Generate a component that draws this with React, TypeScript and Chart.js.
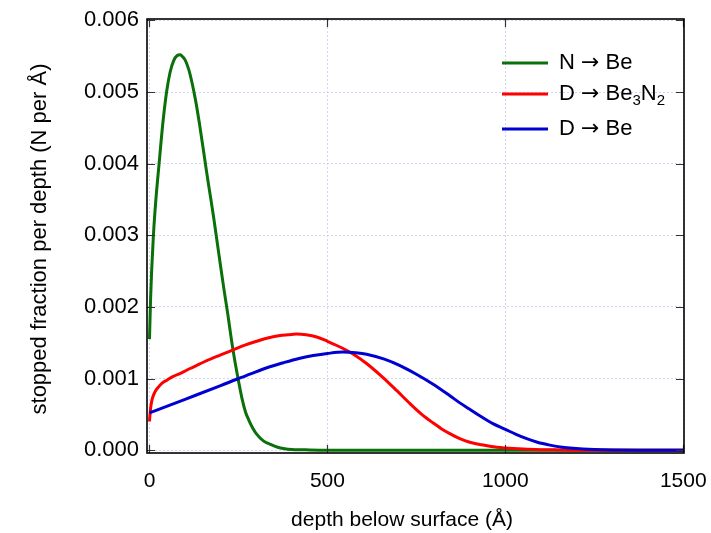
import React, { useEffect, useRef } from "react";
import { Chart, registerables } from "chart.js";

Chart.register(...registerables);

const xTicks = [0, 500, 1000, 1500];
const yTicks = [0, 0.001, 0.002, 0.003, 0.004, 0.005, 0.006];

const seriesLabels = ["N → Be", "D → Be₃N₂", "D → Be"];
const seriesColors = ["#0a700a", "#ff0000", "#0000d2"];

const nBeDepth = [0, 3, 6, 11, 18, 27, 37, 48, 58, 68, 78, 86, 90, 100, 110, 120, 130, 140, 150, 160, 170, 180, 190, 200, 210, 220, 230, 240, 250, 260, 270, 280, 290, 300, 320, 340, 360, 380, 400, 450, 500, 800, 1200, 1500];
const nBeValue = [0.00155, 0.0021, 0.0025, 0.003, 0.0035, 0.004, 0.00454, 0.005, 0.00528, 0.00544, 0.00551, 0.00552, 0.00551, 0.00545, 0.00532, 0.00512, 0.00487, 0.00457, 0.00424, 0.0039, 0.00358, 0.00326, 0.00291, 0.00256, 0.00222, 0.0019, 0.00155, 0.00124, 0.00097, 0.00072, 0.00053, 0.00041, 0.00031, 0.00023, 0.00013, 0.00008, 0.00004, 0.00002, 0.00001, 0.000003, 0, 0, 0, 0];

const dBe3N2Depth = [0, 1, 4, 8, 15, 25, 34, 50, 67, 90, 114, 140, 161, 200, 235, 270, 301, 335, 367, 390, 413, 440, 470, 500, 540, 573, 610, 657, 695, 732, 765, 797, 820, 844, 872, 900, 928, 960, 1000, 1050, 1100, 1150, 1200, 1300, 1500];
const dBe3N2Value = [0.0004, 0.00047, 0.00062, 0.00072, 0.00081, 0.00088, 0.00093, 0.00098, 0.00103, 0.00108, 0.00114, 0.0012, 0.00125, 0.00133, 0.0014, 0.00147, 0.00152, 0.00157, 0.0016, 0.00161, 0.00162, 0.00161, 0.00158, 0.00152, 0.00143, 0.00134, 0.00121, 0.00101, 0.00083, 0.00065, 0.0005, 0.00038, 0.0003, 0.00023, 0.00016, 0.00011, 0.00008, 0.00005, 0.00003, 0.000015, 0.000007, 0.000003, 0, 0, 0];

const dBeDepth = [0, 100, 200, 245, 282, 330, 376, 420, 460, 500, 544, 580, 610, 660, 704, 750, 797, 844, 872, 900, 928, 965, 1000, 1030, 1060, 1090, 1125, 1160, 1190, 1250, 1300, 1400, 1500];
const dBeValue = [0.00052, 0.00071, 0.0009, 0.00099, 0.00106, 0.00115, 0.00122, 0.00128, 0.00132, 0.00135, 0.00137, 0.00136, 0.00134, 0.00127, 0.00118, 0.00106, 0.00092, 0.00076, 0.00066, 0.00057, 0.00048, 0.00037, 0.00029, 0.00022, 0.00016, 0.00011, 0.00007, 0.00004, 0.000025, 0.000008, 0.000002, 0, 0];

const xTitle = "depth below surface (Å)";
const yTitle = "stopped fraction per depth (N per Å)";

const FONT = "'Liberation Sans', Arial, Helvetica, sans-serif";
const ARROW_FONT = "'DejaVu Sans', 'Liberation Sans', sans-serif";

const toPoints = (xs: number[], ys: number[]) => xs.map((x, i) => ({ x, y: ys[i] }));

const SUBS: Record<string, string> = { "₀": "0", "₁": "1", "₂": "2", "₃": "3", "₄": "4", "₅": "5", "₆": "6", "₇": "7", "₈": "8", "₉": "9" };

function drawRich(ctx: CanvasRenderingContext2D, text: string, x: number, y: number, size: number) {
  let cx = x;
  let buf = "";
  let kind = "n";
  const flush = () => {
    if (!buf) return;
    let dy = 0;
    if (kind === "s") {
      ctx.font = `${Math.round(size * 0.68)}px ${FONT}`;
      dy = size * 0.3;
    } else if (kind === "a") {
      ctx.font = `${size}px ${ARROW_FONT}`;
      dy = 0;
    } else {
      ctx.font = `${size}px ${FONT}`;
    }
    ctx.fillText(buf, cx, y + dy);
    cx += ctx.measureText(buf).width;
    buf = "";
  };
  for (const ch of text) {
    const k = ch in SUBS ? "s" : ch === "→" ? "a" : "n";
    if (k !== kind) {
      flush();
      kind = k;
    }
    buf += k === "s" ? SUBS[ch] : ch;
  }
  flush();
}

const framePlugin = {
  id: "frameAndLegend",
  afterDraw(chart: any) {
    const { ctx, chartArea: a, scales } = chart;
    const xs = scales.x;
    const ys = scales.y;
    ctx.save();
    // inward ticks
    ctx.strokeStyle = "#333";
    ctx.lineWidth = 1.2;
    const tl = 8;
    ctx.beginPath();
    for (const v of yTicks) {
      const py = Math.round(ys.getPixelForValue(v)) + 0.5;
      ctx.moveTo(a.left, py);
      ctx.lineTo(a.left + tl, py);
      ctx.moveTo(a.right, py);
      ctx.lineTo(a.right - tl, py);
    }
    for (const v of xTicks) {
      const px = Math.round(xs.getPixelForValue(v)) + 0.5;
      ctx.moveTo(px, a.bottom);
      ctx.lineTo(px, a.bottom - tl);
      ctx.moveTo(px, a.top);
      ctx.lineTo(px, a.top + tl);
    }
    ctx.stroke();
    // frame
    ctx.strokeStyle = "#000";
    ctx.lineWidth = 1.6;
    ctx.strokeRect(a.left, a.top, a.right - a.left, a.bottom - a.top);
    // axis titles
    ctx.fillStyle = "#000";
    ctx.textAlign = "center";
    ctx.textBaseline = "middle";
    ctx.font = `21px ${FONT}`;
    ctx.fillText(xTitle, a.left + 255, 520);
    ctx.save();
    ctx.translate(40, (a.top + a.bottom) / 2 + 3);
    ctx.rotate(-Math.PI / 2);
    ctx.font = `22px ${FONT}`;
    ctx.fillText(yTitle, 0, 0);
    ctx.restore();
    // legend
    const rows = [44, 75, 110];
    chart.data.datasets.forEach((ds: any, i: number) => {
      const y = a.top + rows[i];
      ctx.strokeStyle = ds.borderColor;
      ctx.lineWidth = 3;
      ctx.beginPath();
      ctx.moveTo(a.right - 182, y);
      ctx.lineTo(a.right - 136, y);
      ctx.stroke();
      ctx.fillStyle = "#000";
      ctx.textBaseline = "middle";
      ctx.textAlign = "left";
      drawRich(ctx, ds.label, a.right - 125, y, 22);
    });
    ctx.restore();
  },
};

export default function App() {
  const ref = useRef<HTMLCanvasElement | null>(null);
  useEffect(() => {
    if (!ref.current) return;
    const datasets = [
      { label: seriesLabels[0], data: toPoints(nBeDepth, nBeValue), borderColor: seriesColors[0], order: 3 },
      { label: seriesLabels[1], data: toPoints(dBe3N2Depth, dBe3N2Value), borderColor: seriesColors[1], order: 2 },
      { label: seriesLabels[2], data: toPoints(dBeDepth, dBeValue), borderColor: seriesColors[2], order: 1 },
    ].map((d) => ({
      ...d,
      backgroundColor: d.borderColor,
      borderWidth: 3,
      pointRadius: 0,
      showLine: true,
      fill: false,
      cubicInterpolationMode: "monotone" as const,
    }));
    const gridColor = "rgba(190,190,238,0.65)";
    const chart = new Chart(ref.current, {
      type: "scatter",
      data: { datasets },
      options: {
        animation: false,
        responsive: false,
        layout: { padding: { top: 19, right: 27, left: 0, bottom: 0 } },
        plugins: { legend: { display: false }, tooltip: { enabled: false } },
        scales: {
          x: {
            type: "linear",
            min: -7,
            max: 1502,
            afterFit: (s: any) => {
              s.height = 80;
              s.paddingLeft = 0;
              s.paddingRight = 0;
            },
            afterBuildTicks: (s: any) => {
              s.ticks = xTicks.map((v) => ({ value: v }));
            },
            grid: { color: gridColor, drawTicks: false, lineWidth: 1 },
            border: { display: false, dash: [2, 2] },
            ticks: { color: "#000", font: { size: 21, family: FONT }, padding: 16, maxRotation: 0, callback: (v: any) => String(v) },
          },
          y: {
            type: "linear",
            min: -0.00004,
            max: 0.00602,
            afterFit: (s: any) => {
              s.width = 147;
              s.paddingTop = 0;
              s.paddingBottom = 0;
            },
            afterBuildTicks: (s: any) => {
              s.ticks = yTicks.map((v) => ({ value: v }));
            },
            grid: { color: gridColor, drawTicks: false, lineWidth: 1 },
            border: { display: false, dash: [2, 2] },
            ticks: { color: "#000", font: { size: 22, family: FONT }, padding: 8, callback: (v: any) => Number(v).toFixed(3) },
          },
        },
      },
      plugins: [framePlugin],
    } as any);
    return () => chart.destroy();
  }, []);
  return (
    <div style={{ position: "absolute", left: 0, top: 0, width: 711, height: 533, background: "#fff" }}>
      <canvas ref={ref} width={711} height={533} />
    </div>
  );
}
